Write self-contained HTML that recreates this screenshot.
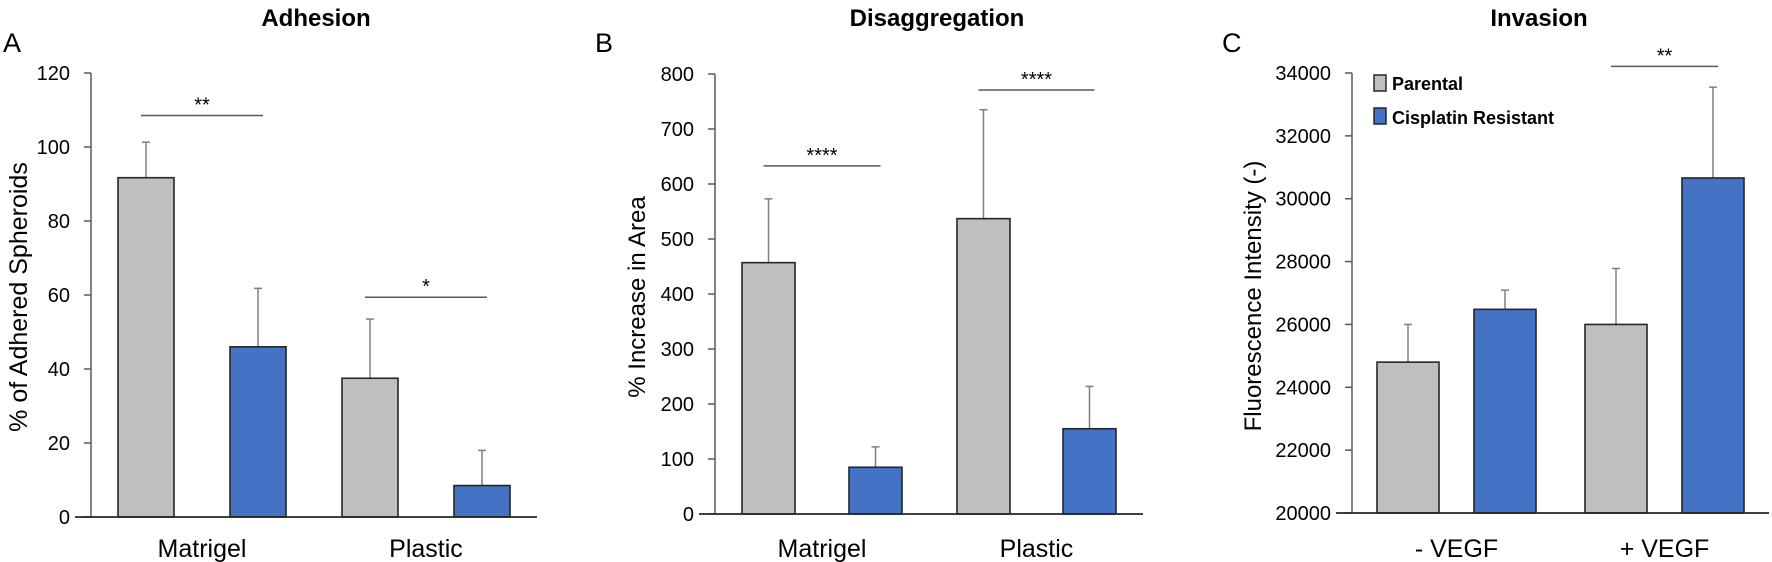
<!DOCTYPE html>
<html><head><meta charset="utf-8">
<style>
html,body{margin:0;padding:0;background:#fff;}
svg{display:block;font-family:"Liberation Sans",Arial,sans-serif;}
</style></head>
<body>
<svg id="fig" width="1772" height="562" viewBox="0 0 1772 562" xmlns="http://www.w3.org/2000/svg"></svg>
<script>
// Panel A data
const aCategories = ["Matrigel", "Plastic"];
const aParental = [91.7, 37.5];
const aResistant = [46, 8.5];
const aParentalErr = [101.3, 53.5];
const aResistantErr = [61.8, 18];
const aTicks = [0, 20, 40, 60, 80, 100, 120];
const aSig = [{y:108.5, label:"**"}, {y:59.4, label:"*"}];
// Panel B data
const bCategories = ["Matrigel", "Plastic"];
const bParental = [457, 537];
const bResistant = [85, 155];
const bParentalErr = [573, 735];
const bResistantErr = [122, 232];
const bTicks = [0, 100, 200, 300, 400, 500, 600, 700, 800];
const bSig = [{y:633, label:"****"}, {y:771, label:"****"}];
// Panel C data
const cCategories = ["- VEGF", "+ VEGF"];
const cParental = [24800, 26000];
const cResistant = [26480, 30660];
const cParentalErr = [26000, 27780];
const cResistantErr = [27090, 33550];
const cTicks = [20000, 22000, 24000, 26000, 28000, 30000, 32000, 34000];
const cSig = [null, {y:34210, label:"**"}];

const NS = "http://www.w3.org/2000/svg";
const svg = document.getElementById("fig");
function mk(tag, attrs, parent, text){
  const e = document.createElementNS(NS, tag);
  for (const k in attrs) e.setAttribute(k, attrs[k]);
  if (text !== undefined) e.textContent = text;
  (parent || svg).appendChild(e);
  return e;
}

function panel(cfg){
  const g = mk("g", {});
  
  
  const y = v => cfg.y0 - (v - cfg.vmin) / (cfg.vmax - cfg.vmin) * (cfg.y0 - cfg.y1);
  const t = mk("text", {x:cfg.titleX, y:26, "text-anchor":"middle", "font-size":24, "font-weight":"bold", fill:"#000"}, g, cfg.title);
  
  
  const l = mk("text", {x:cfg.letterX, y:52, "font-size":27, fill:"#000"}, g, cfg.letter);
  
  
  const ax = mk("line", {x1:cfg.ax, y1:cfg.y1, x2:cfg.ax, y2:cfg.y0, stroke:"#595959", "stroke-width":1.5}, g);
  
  
  cfg.ticks.forEach(v => {
    const tk = mk("line", {x1:cfg.ax-7, y1:y(v), x2:cfg.ax, y2:y(v), stroke:"#595959", "stroke-width":1.5}, g);
    
    
    const tl = mk("text", {x:cfg.ax-21, y:y(v)+7, "text-anchor":"end", "font-size":20, fill:"#000"}, g, String(v));
    
    
  });
  const yt = mk("text", {x:0, y:0, transform:`translate(${cfg.ytX},${cfg.ytY}) rotate(-90)`, "text-anchor":"middle", "font-size":cfg.ytSize, fill:"#000"}, g, cfg.ytitle);
  
  
  const draw = (vals, errs, xs, fill, name) => {
    vals.forEach((v, i) => {
      const x = xs[i];
      const cx = x + cfg.bw/2;
      const e = mk("line", {x1:cx, y1:y(errs[i]), x2:cx, y2:y(v), stroke:"#7f7f7f", "stroke-width":1.5}, g);
      
      
      const cap = mk("line", {x1:cx-4, y1:y(errs[i]), x2:cx+4, y2:y(errs[i]), stroke:"#7f7f7f", "stroke-width":1.5}, g);
      
      
      const r = mk("rect", {x:x, y:y(v), width:cfg.bw, height:cfg.y0 - y(v), fill:fill, stroke:"#262626", "stroke-width":1.6}, g);
      
      
    });
  };
  draw(cfg.par, cfg.parErr, cfg.gx, "#bfbfbf", "parental");
  draw(cfg.res, cfg.resErr, cfg.rx, "#4472c4", "resistant");
  const bl = mk("line", {x1:cfg.ax-16, y1:cfg.y0, x2:cfg.axEnd, y2:cfg.y0, stroke:"#262626", "stroke-width":1.8}, g);
  
  
  cfg.cats.forEach((c, i) => {
    const cx = (cfg.gx[i] + cfg.rx[i] + cfg.bw) / 2;
    const ct = mk("text", {x:cx, y:557, "text-anchor":"middle", "font-size":25, fill:"#000"}, g, c);
    
    
  });
  cfg.sig.forEach((s, i) => {
    if (!s) return;
    const x1 = cfg.gx[i] + cfg.bw/2 - 5, x2 = cfg.rx[i] + cfg.bw/2 + 5;
    const sl = mk("line", {x1:x1, y1:y(s.y), x2:x2, y2:y(s.y), stroke:"#595959", "stroke-width":1.5}, g);
    
    
    const st = mk("text", {x:(x1+x2)/2, y:y(s.y)-4, "text-anchor":"middle", "font-size":20, fill:"#000"}, g, s.label);
    
    
  });
  return g;
}

panel({id:"adhesion", title:"Adhesion", titleX:316, letter:"A", letterX:3, ax:91, axEnd:537, y0:517, y1:73, vmin:0, vmax:120,
  ticks:aTicks, ytitle:"% of Adhered Spheroids", ytX:27, ytY:297, ytSize:25, bw:56,
  gx:[118, 342], rx:[230, 454], cats:aCategories, par:aParental, res:aResistant, parErr:aParentalErr, resErr:aResistantErr, sig:aSig});
panel({id:"disaggregation", title:"Disaggregation", titleX:937, letter:"B", letterX:595, ax:715, axEnd:1143, y0:514, y1:74, vmin:0, vmax:800,
  ticks:bTicks, ytitle:"% Increase in Area", ytX:645, ytY:297, ytSize:24, bw:53,
  gx:[742, 957], rx:[849, 1063], cats:bCategories, par:bParental, res:bResistant, parErr:bParentalErr, resErr:bResistantErr, sig:bSig});
const gC = panel({id:"invasion", title:"Invasion", titleX:1539, letter:"C", letterX:1222, ax:1352, axEnd:1769, y0:513, y1:73, vmin:20000, vmax:34000,
  ticks:cTicks, ytitle:"Fluorescence Intensity (-)", ytX:1261, ytY:296, ytSize:24, bw:62,
  gx:[1377, 1585], rx:[1474, 1682], cats:cCategories, par:cParental, res:cResistant, parErr:cParentalErr, resErr:cResistantErr, sig:cSig});

const legend = mk("g", {}, gC);


const lb1 = mk("rect", {x:1374, y:75, width:12, height:16, fill:"#bfbfbf", stroke:"#262626", "stroke-width":1.5}, legend);


const lt1 = mk("text", {x:1392, y:90, "font-size":18, "font-weight":"bold", fill:"#000"}, legend, "Parental");


const lb2 = mk("rect", {x:1374, y:108, width:12, height:16, fill:"#4472c4", stroke:"#262626", "stroke-width":1.5}, legend);


const lt2 = mk("text", {x:1392, y:124, "font-size":18, "font-weight":"bold", fill:"#000"}, legend, "Cisplatin Resistant");


</script>
</body></html>
